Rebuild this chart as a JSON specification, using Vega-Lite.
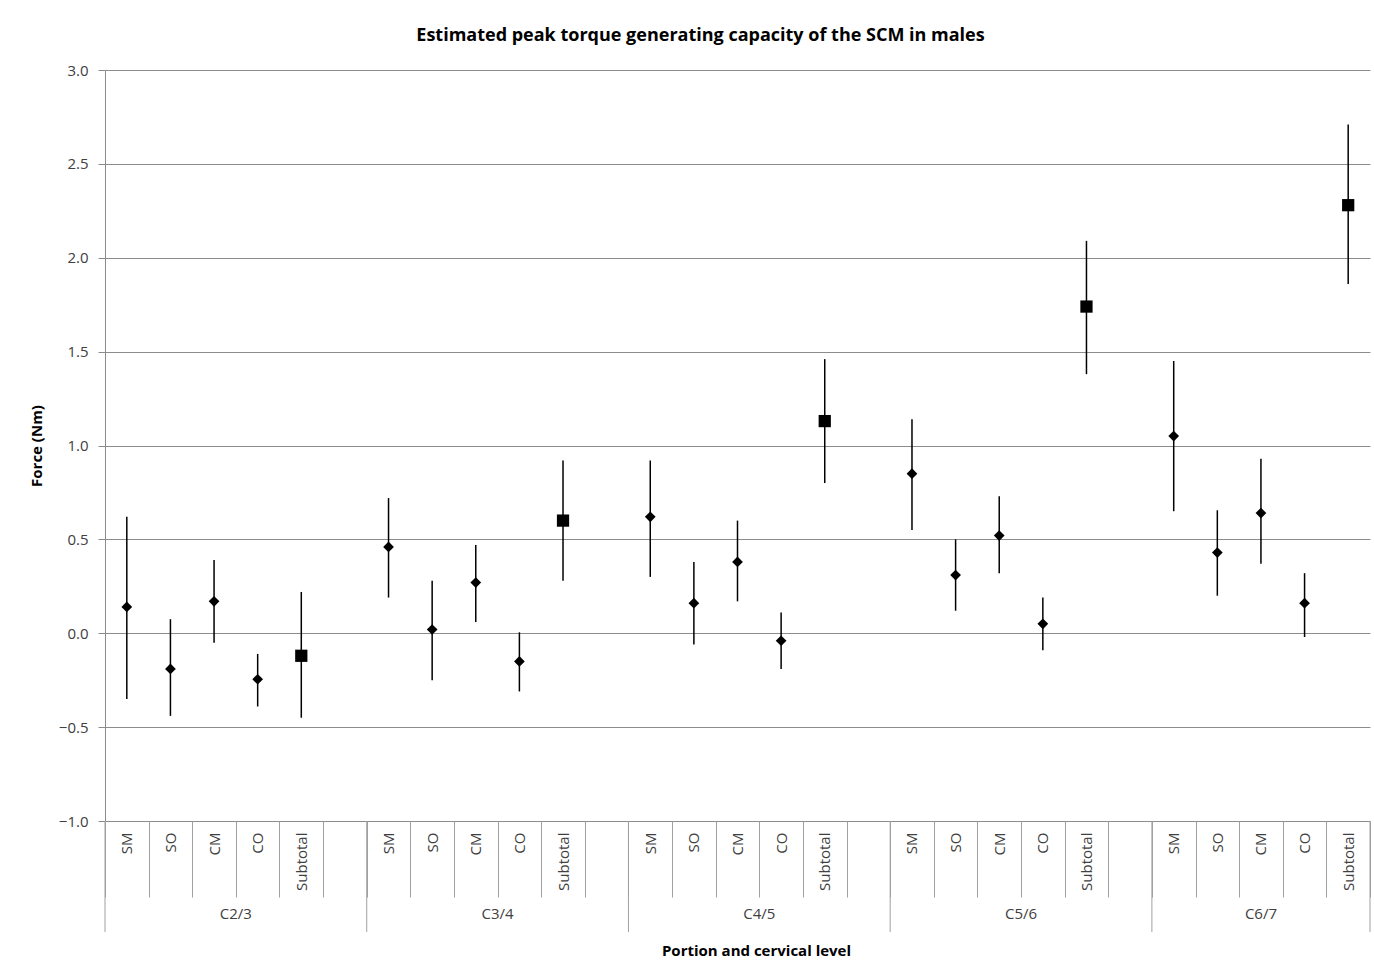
{
  "$schema": "https://vega.github.io/schema/vega-lite/v6.json",
  "width": 1265,
  "height": 751,
  "autosize": {"type": "none"},
  "padding": {"left": 105, "top": 70, "right": 4, "bottom": 153},
  "background": "white",
  "config": {
    "font": "Open Sans",
    "view": {"stroke": null},
    "axis": {"labelFont": "Open Sans", "titleFont": "Open Sans"}
  },
  "title": {
    "text": "Estimated peak torque generating capacity of the SCM in males",
    "font": "Open Sans",
    "fontSize": 18,
    "fontWeight": "bold",
    "color": "#000000",
    "anchor": "middle",
    "frame": "group",
    "dx": -37,
    "offset": 18
  },
  "data": {
    "values": [
      {"level": "C2/3", "portion": "SM", "value": 0.14, "lo": -0.35, "hi": 0.62},
      {"level": "C2/3", "portion": "SO", "value": -0.19, "lo": -0.44, "hi": 0.075},
      {"level": "C2/3", "portion": "CM", "value": 0.17, "lo": -0.05, "hi": 0.39},
      {"level": "C2/3", "portion": "CO", "value": -0.245, "lo": -0.39, "hi": -0.11},
      {"level": "C2/3", "portion": "Subtotal", "value": -0.12, "lo": -0.45, "hi": 0.22},
      {"level": "C3/4", "portion": "SM", "value": 0.46, "lo": 0.19, "hi": 0.72},
      {"level": "C3/4", "portion": "SO", "value": 0.02, "lo": -0.25, "hi": 0.28},
      {"level": "C3/4", "portion": "CM", "value": 0.27, "lo": 0.06, "hi": 0.47},
      {"level": "C3/4", "portion": "CO", "value": -0.15, "lo": -0.31, "hi": 0.005},
      {"level": "C3/4", "portion": "Subtotal", "value": 0.60, "lo": 0.28, "hi": 0.92},
      {"level": "C4/5", "portion": "SM", "value": 0.62, "lo": 0.30, "hi": 0.92},
      {"level": "C4/5", "portion": "SO", "value": 0.16, "lo": -0.06, "hi": 0.38},
      {"level": "C4/5", "portion": "CM", "value": 0.38, "lo": 0.17, "hi": 0.60},
      {"level": "C4/5", "portion": "CO", "value": -0.04, "lo": -0.19, "hi": 0.11},
      {"level": "C4/5", "portion": "Subtotal", "value": 1.13, "lo": 0.80, "hi": 1.46},
      {"level": "C5/6", "portion": "SM", "value": 0.85, "lo": 0.55, "hi": 1.14},
      {"level": "C5/6", "portion": "SO", "value": 0.31, "lo": 0.12, "hi": 0.50},
      {"level": "C5/6", "portion": "CM", "value": 0.52, "lo": 0.32, "hi": 0.73},
      {"level": "C5/6", "portion": "CO", "value": 0.05, "lo": -0.09, "hi": 0.19},
      {"level": "C5/6", "portion": "Subtotal", "value": 1.74, "lo": 1.38, "hi": 2.09},
      {"level": "C6/7", "portion": "SM", "value": 1.05, "lo": 0.65, "hi": 1.45},
      {"level": "C6/7", "portion": "SO", "value": 0.43, "lo": 0.20, "hi": 0.655},
      {"level": "C6/7", "portion": "CM", "value": 0.64, "lo": 0.37, "hi": 0.93},
      {"level": "C6/7", "portion": "CO", "value": 0.16, "lo": -0.02, "hi": 0.32},
      {"level": "C6/7", "portion": "Subtotal", "value": 2.28, "lo": 1.86, "hi": 2.71}
    ]
  },
  "transform": [
    {"calculate": "datum.level + ' ' + datum.portion", "as": "key"}
  ],
  "encoding": {
    "x": {
      "field": "key",
      "type": "nominal",
      "sort": null,
      "scale": {
        "type": "band",
        "paddingInner": 0,
        "paddingOuter": 0,
        "domain": [
          "C2/3 SM", "C2/3 SO", "C2/3 CM", "C2/3 CO", "C2/3 Subtotal", "gap1",
          "C3/4 SM", "C3/4 SO", "C3/4 CM", "C3/4 CO", "C3/4 Subtotal", "gap2",
          "C4/5 SM", "C4/5 SO", "C4/5 CM", "C4/5 CO", "C4/5 Subtotal", "gap3",
          "C5/6 SM", "C5/6 SO", "C5/6 CM", "C5/6 CO", "C5/6 Subtotal", "gap4",
          "C6/7 SM", "C6/7 SO", "C6/7 CM", "C6/7 CO", "C6/7 Subtotal"
        ]
      },
      "axis": {
        "title": "Portion and cervical level",
        "titleFontSize": 15,
        "titleFontWeight": "bold",
        "titleColor": "#000000",
        "titleX": 651,
        "titleY": 129,
        "titleBaseline": "middle",
        "domain": false,
        "ticks": true,
        "tickBand": "extent",
        "tickSize": 76,
        "tickColor": "#a0a0a0",
        "tickWidth": 1,
        "labelAngle": -90,
        "labelAlign": "right",
        "labelBaseline": "middle",
        "labelPadding": -65,
        "labelFontSize": 15,
        "labelColor": "#404040",
        "labelOverlap": false,
        "labelExpr": "indexof(datum.label, 'gap') == 0 ? '' : slice(datum.label, indexof(datum.label, ' ') + 1)"
      }
    }
  },
  "layer": [
    {
      "mark": {"type": "rule", "color": "#000000", "strokeWidth": 1.5},
      "encoding": {
        "y": {
          "field": "lo",
          "type": "quantitative",
          "scale": {"domain": [-1, 3], "nice": false, "zero": false},
          "axis": {
            "title": "Force (Nm)",
            "titleFontSize": 15,
            "titleFontWeight": "bold",
            "titleColor": "#000000",
            "titleX": -61,
            "values": [-1, -0.5, 0, 0.5, 1, 1.5, 2, 2.5, 3],
            "format": ".1f",
            "labelFontSize": 15,
            "labelColor": "#404040",
            "labelPadding": 10,
            "tickSize": 7,
            "tickColor": "#8c8c8c",
            "domainColor": "#8c8c8c",
            "grid": true,
            "gridColor": "#8c8c8c",
            "gridWidth": 1
          }
        },
        "y2": {"field": "hi"}
      }
    },
    {
      "transform": [{"filter": "datum.portion != 'Subtotal'"}],
      "mark": {"type": "point", "shape": "diamond", "filled": true, "color": "#000000", "size": 115, "opacity": 1},
      "encoding": {
        "y": {"field": "value", "type": "quantitative"}
      }
    },
    {
      "transform": [{"filter": "datum.portion == 'Subtotal'"}],
      "mark": {"type": "point", "shape": "square", "filled": true, "color": "#000000", "size": 150, "opacity": 1},
      "encoding": {
        "y": {"field": "value", "type": "quantitative"}
      }
    },
    {
      "transform": [{"filter": "datum.portion == 'SM'"}],
      "mark": {"type": "rule", "color": "#a0a0a0", "strokeWidth": 1},
      "encoding": {
        "x": {"field": "key", "type": "nominal", "bandPosition": 0},
        "y": {"datum": -1},
        "y2": {"datum": -1.5912}
      }
    },
    {
      "transform": [{"filter": "datum.key == 'C6/7 Subtotal'"}],
      "mark": {"type": "rule", "color": "#a0a0a0", "strokeWidth": 1},
      "encoding": {
        "x": {"field": "key", "type": "nominal", "bandPosition": 1},
        "y": {"datum": -1},
        "y2": {"datum": -1.5912}
      }
    },
    {
      "transform": [{"filter": "datum.portion == 'CM' && datum.level != 'C6/7'"}],
      "mark": {"type": "text", "fontSize": 15, "color": "#404040", "baseline": "middle", "align": "center"},
      "encoding": {
        "x": {"field": "key", "type": "nominal", "bandPosition": 1},
        "y": {"datum": -1.4953},
        "text": {"field": "level"}
      }
    },
    {
      "transform": [{"filter": "datum.portion == 'CM' && datum.level == 'C6/7'"}],
      "mark": {"type": "text", "fontSize": 15, "color": "#404040", "baseline": "middle", "align": "center"},
      "encoding": {
        "x": {"field": "key", "type": "nominal", "bandPosition": 0.5},
        "y": {"datum": -1.4953},
        "text": {"field": "level"}
      }
    }
  ]
}
